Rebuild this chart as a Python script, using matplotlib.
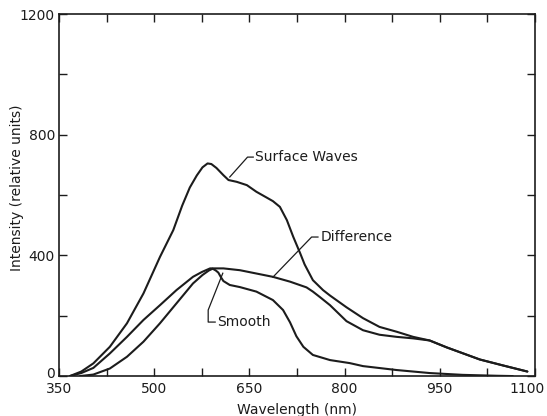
import matplotlib
matplotlib.use("Agg")
import matplotlib.pyplot as plt
from matplotlib.transforms import ScaledTranslation

# Surface Waves
sw_x = [367, 385, 404, 430, 457, 483, 509, 530, 544, 556, 567, 576, 584, 590, 598, 609,
        617, 630, 646, 661, 677, 687, 698, 709, 719, 730, 737, 750, 766, 777, 803, 829,
        855, 882, 908, 934, 961, 1013, 1050, 1088]
sw_y = [0, 15, 42, 97, 175, 274, 395, 484, 565, 625, 665, 692, 705, 703, 690, 666,
        650, 644, 633, 611, 592, 580, 561, 517, 462, 407, 370, 318, 285, 267, 228, 192,
        163, 147, 130, 118, 95, 55, 35, 15]

# Difference
df_x = [367, 385, 404, 430, 457, 483, 509, 535, 561, 575, 588, 609, 635, 661, 687, 714,
        740, 750, 761, 777, 803, 829, 855, 882, 908, 934, 961, 1013, 1050, 1088]
df_y = [0, 10, 27, 75, 130, 186, 235, 285, 329, 345, 357, 357, 351, 340, 329, 313,
        294, 280, 262, 235, 182, 152, 137, 130, 125, 118, 95, 55, 35, 15]

# Smooth
sm_x = [383, 404, 430, 457, 483, 509, 535, 561, 576, 586, 592, 597, 601, 605, 609, 619,
        635, 661, 687, 703, 714, 724, 735, 750, 777, 808, 829, 882, 934, 986, 1040, 1065]
sm_y = [0, 5, 25, 64, 114, 175, 241, 307, 335, 350, 356, 350, 343, 328, 315, 302,
        295, 280, 252, 219, 178, 132, 97, 70, 53, 43, 33, 20, 10, 4, 1, 0]

x_ticks = [350, 425, 500, 575, 650, 725, 800, 875, 950, 1025, 1100]
x_labels = ["350", "", "500", "", "650", "", "800", "", "950", "", "1100"]
y_ticks = [0, 200, 400, 600, 800, 1000, 1200]
y_labels = ["0", "", "400", "", "800", "", "1200"]

ink = "#1c1c1c"
plt.rcParams['font.family'] = ['DejaVu Sans']

fig = plt.figure(figsize=(5.47, 4.16), dpi=100)
ax = fig.add_axes([0.108, 0.096, 0.870, 0.870])

lw = 1.5
for xs, ys in [(sw_x, sw_y), (df_x, df_y), (sm_x, sm_y)]:
    ax.plot(xs, ys, color=ink, lw=lw, solid_capstyle='round', solid_joinstyle='round')

ax.set_xlim(350, 1100)
ax.set_ylim(0, 1200)
ax.set_xticks(x_ticks)
ax.set_xticklabels(x_labels)
ax.set_yticks(y_ticks)
ax.set_yticklabels(y_labels)
ax.tick_params(direction='in', length=6, width=1.0, color=ink, labelsize=10,
               labelcolor=ink, top=True, right=True)
ax.tick_params(axis='x', pad=4)
ax.tick_params(axis='y', pad=3)
for s in ax.spines.values():
    s.set_color(ink)
    s.set_linewidth(1.2)

# nudge the "0" label up and the "1100" label left, as in the original
ylabs = ax.get_yticklabels()
ylabs[0].set_transform(ylabs[0].get_transform() + ScaledTranslation(0, 4 / 100, fig.dpi_scale_trans))
xlabs = ax.get_xticklabels()
xlabs[-1].set_transform(xlabs[-1].get_transform() + ScaledTranslation(-8 / 100, 0, fig.dpi_scale_trans))

ax.set_xlabel("Wavelength (nm)", fontsize=10, color=ink)
ax.xaxis.label.set_va('center')
ax.xaxis.set_label_coords(0.5, -0.093)
ax.set_ylabel("Intensity (relative units)", fontsize=10, color=ink)
ax.yaxis.label.set_va('center')
ax.yaxis.set_label_coords(-0.088, 0.52)

# Annotations with leader lines
lk = dict(color=ink, lw=0.9)
ax.plot([619, 647, 656], [660, 726, 726], **lk)
ax.text(659, 726, "Surface Waves", fontsize=10, color=ink, va='center', ha='left')

ax.plot([687, 748, 758], [328, 461, 461], **lk)
ax.text(762, 461, "Difference", fontsize=10, color=ink, va='center', ha='left')

ax.plot([608, 585, 585, 596], [341, 219, 179, 179], **lk)
ax.text(599, 179, "Smooth", fontsize=10, color=ink, va='center', ha='left')

fig.savefig("out.png", dpi=100)
